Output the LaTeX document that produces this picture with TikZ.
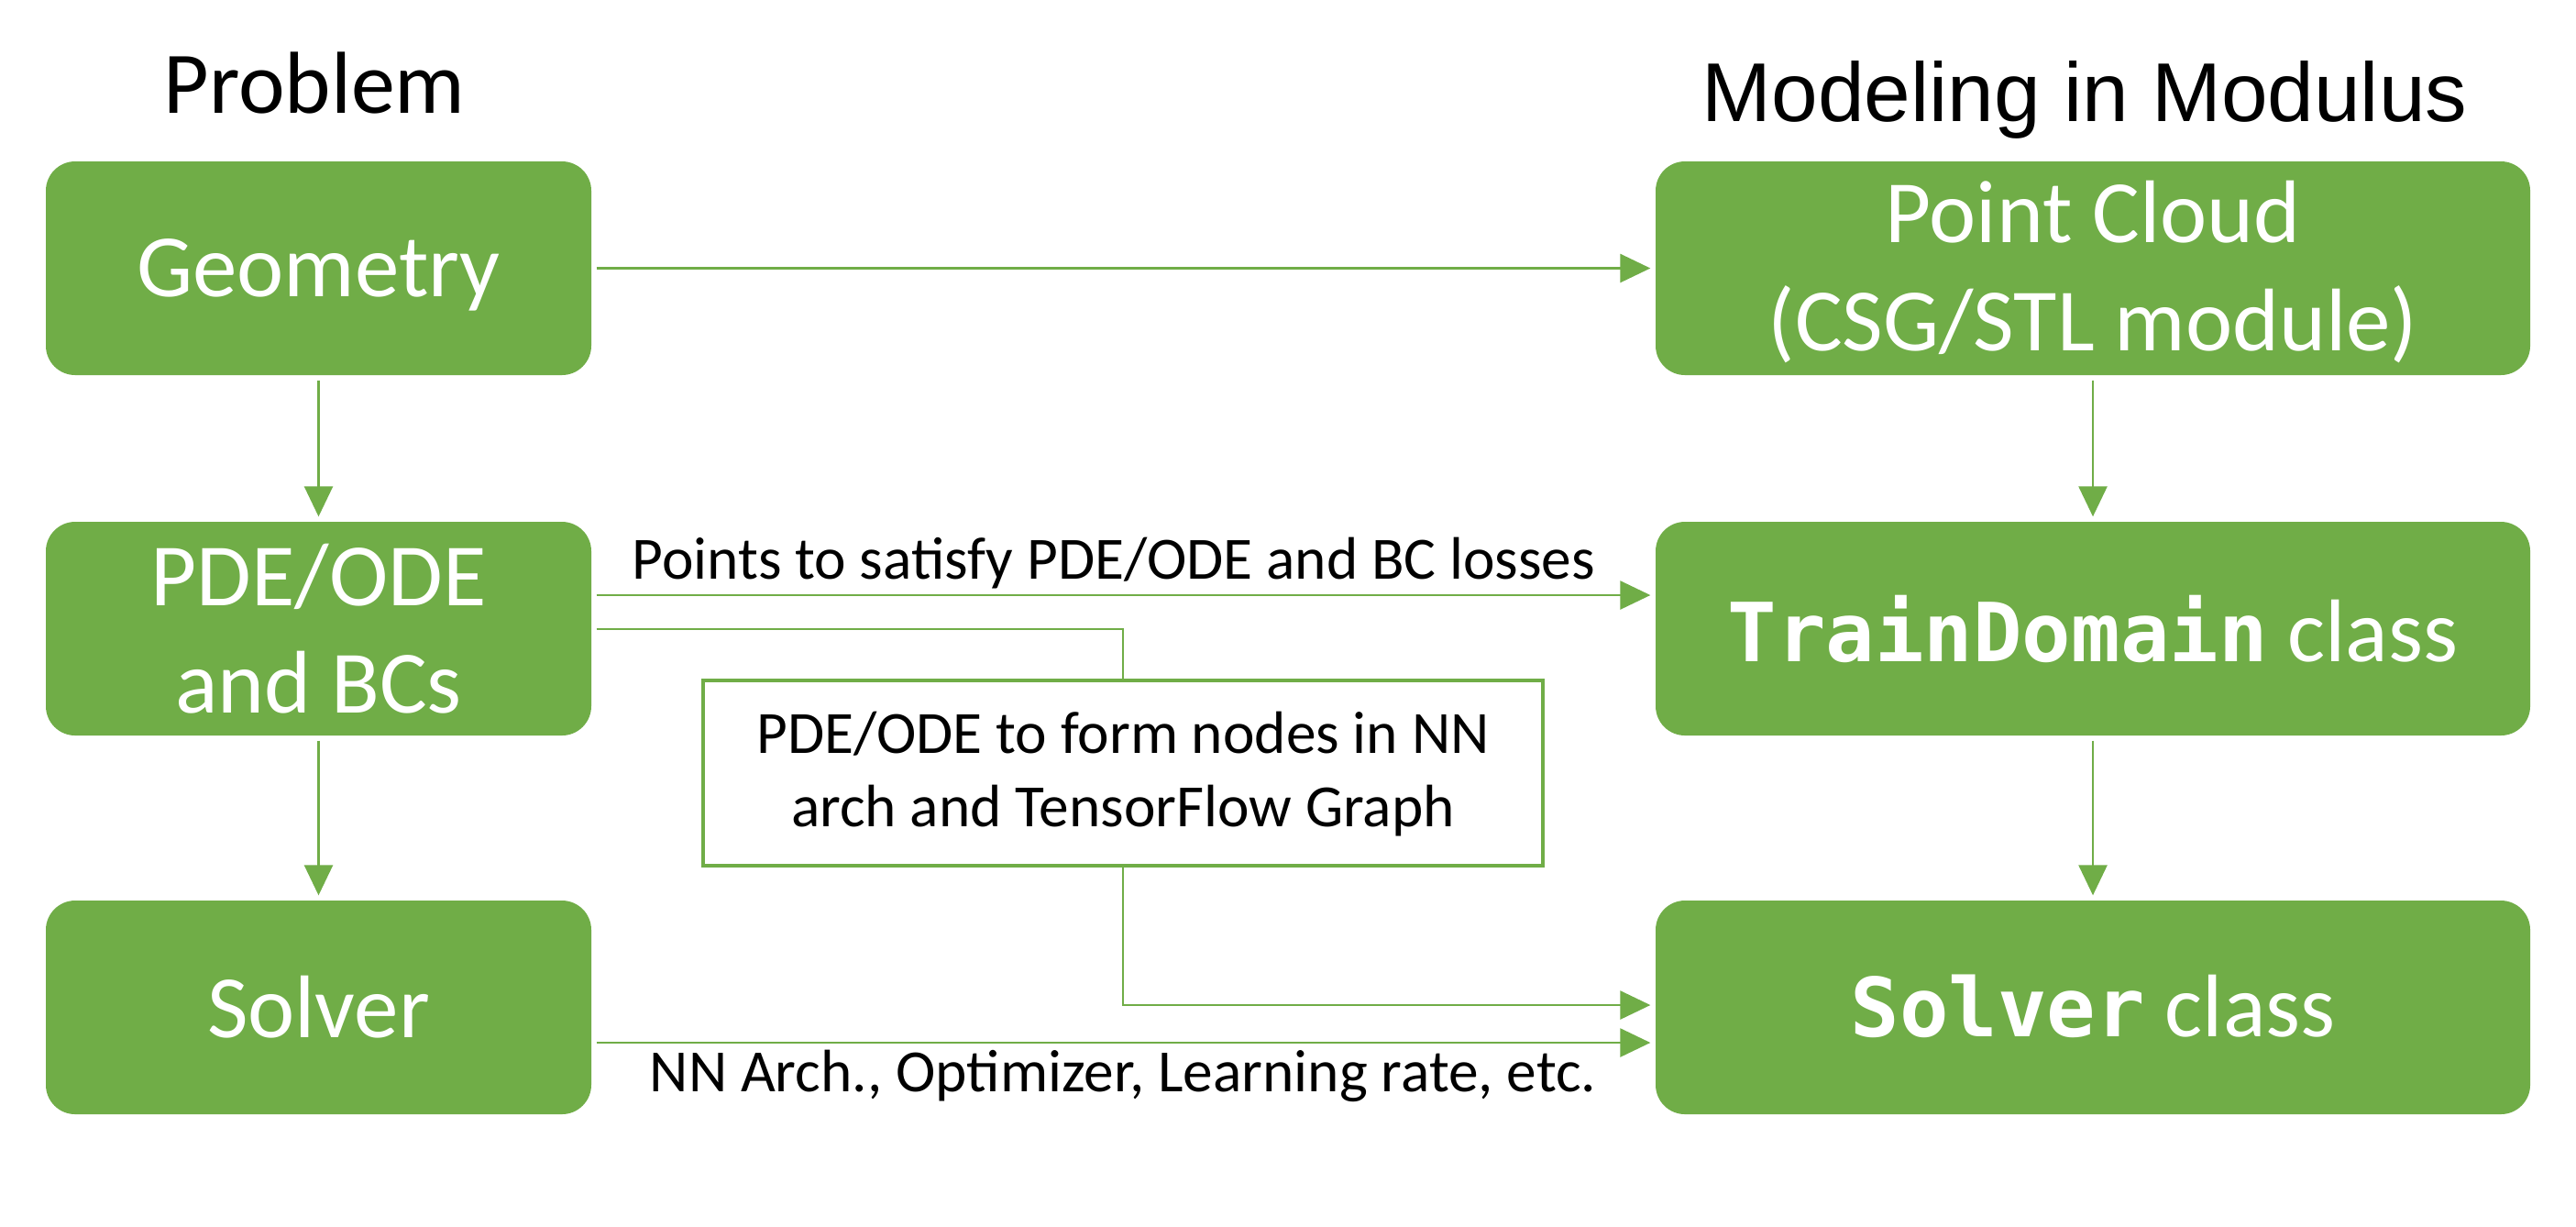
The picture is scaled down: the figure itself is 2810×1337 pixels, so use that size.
\documentclass[tikz,border=0pt]{standalone}
\usepackage{fontspec}
\setmainfont{Carlito}
\newfontfamily\arialfont{Liberation Sans}
\newfontfamily\monofont{DejaVu Sans Mono}
\usetikzlibrary{arrows.meta}
\definecolor{gr}{HTML}{70AD47}
\begin{document}
\begin{tikzpicture}[x=0.1mm,y=-0.1mm,
 box/.style={draw=none, fill=gr, rounded corners=3.2mm, inner sep=0, minimum height=23.3mm},
 lbox/.style={box, minimum width=59.5mm},
 rbox/.style={box, minimum width=95.4mm},
 boxtxt/.style={anchor=base, inner sep=0, text=white, font=\fontsize{27.6}{33}\selectfont},
 lbl/.style={anchor=base, inner sep=0, font=\fontsize{18.6}{22}\selectfont},
 ttl/.style={anchor=base, inner sep=0},
 conn/.style={draw=gr, line width=0.75pt, -{Triangle[length=3.3mm,width=3.1mm]}, shorten >=0.5mm, shorten <=0.5mm},
 ]
\useasboundingbox[fill=white] (0,0) rectangle (2810,1337);

% titles
\node[ttl, font=\fontsize{27.3}{33}\selectfont] (t1) at (343,123) {Problem};
\node[ttl, font=\arialfont\fontsize{25.9}{31}\selectfont] (t2) at (2274,132) {Modeling in Modulus};

% boxes
\node[lbox] (geo) at (347.5,292.5) {};
\node[lbox] (pde) at (347.5,685.5) {};
\node[lbox] (sol) at (347.5,1098.5) {};
\node[rbox] (pc) at (2283,292.5) {};
\node[rbox] (td) at (2283,685.5) {};
\node[rbox] (sc) at (2283,1098.5) {};
\node[draw=gr, line width=1.2pt, fill=white, minimum width=91.6mm, minimum height=20.2mm, inner sep=0] (mid) at (1225,843) {};

% box texts
\node[boxtxt] (geot) at (347.5,323) {Geometry};
\node[boxtxt] (pdet1) at (347.5,660.5) {PDE/ODE};
\node[boxtxt] (pdet2) at (347.5,777) {and BCs};
\node[boxtxt] (solt) at (347.5,1131.5) {Solver};
\node[boxtxt] (pct1) at (2283,264) {Point Cloud};
\node[boxtxt] (pct2) at (2283,382) {(CSG/STL module)};
\node[boxtxt] (tdt) at (2283,721) {{\monofont\bfseries\fontsize{25.3}{30}\selectfont TrainDomain} class};
\node[boxtxt] (sct) at (2283,1130) {{\monofont\bfseries\fontsize{25.3}{30}\selectfont Solver} class};

% labels
\node[lbl] (l1) at (1215,631) {Points to satisfy PDE/ODE and BC losses};
\node[lbl] (l2) at (1225,1190) {NN Arch., Optimizer, Learning rate, etc.};
\node[lbl] (m1) at (1225,821) {PDE/ODE to form nodes in NN};
\node[lbl] (m2) at (1225,901) {arch and TensorFlow Graph};

% levels
\coordinate (yP) at (0,649);
\coordinate (yM) at (0,686);
\coordinate (yE) at (0,1096);
\coordinate (yS) at (0,1137);

% connectors
\draw[conn] (geo) -- (pc);
\draw[conn] (geo) -- (pde);
\draw[conn] (pde) -- (sol);
\draw[conn] (pc) -- (td);
\draw[conn] (td) -- (sc);
\draw[conn] (pde.east |- yP) -- (td.west |- yP);
\draw[conn, -, shorten >=0pt] (pde.east |- yM) -| (mid.north);
\draw[conn, shorten <=0pt] (mid.south) |- (sc.west |- yE);
\draw[conn] (sol.east |- yS) -- (sc.west |- yS);
\end{tikzpicture}
\end{document}
